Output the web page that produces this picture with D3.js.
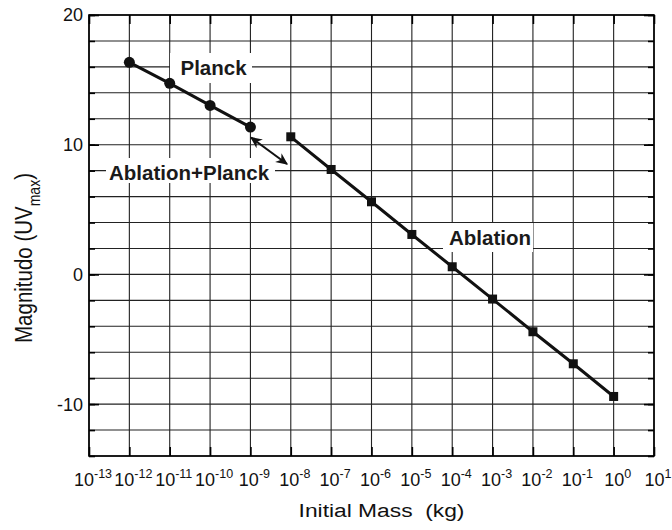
<!DOCTYPE html>
<html>
<head>
<meta charset="utf-8">
<script src="https://cdn.jsdelivr.net/npm/d3@7"></script>
<style>
  html, body { margin: 0; padding: 0; background: #fff; }
  svg { display: block; font-family: Arial, "Liberation Sans", Helvetica, sans-serif; }
</style>
</head>
<body>
<svg id="chart" width="672" height="530"></svg>
<script>
// Peak UV magnitude versus initial meteoroid mass
const planckMass = [1e-12, 1e-11, 1e-10, 1e-9];
const planckMag  = [16.35, 14.73, 13.03, 11.36];

const ablationMass = [1e-8, 1e-7, 1e-6, 1e-5, 1e-4, 1e-3, 1e-2, 1e-1, 1e0];
const ablationMag  = [10.61, 8.09, 5.6, 3.08, 0.59, -1.9, -4.42, -6.89, -9.41];

const xTickExponents = [-13, -12, -11, -10, -9, -8, -7, -6, -5, -4, -3, -2, -1, 0, 1];
const yMajorTicks = [-10, 0, 10, 20];
const yMinorTicks = d3.range(-14, 20.001, 2);

const xTitle = "Initial Mass  (kg)";
const yTitle = "Magnitudo (UV";
const yTitleSub = "max";
const yTitleEnd = ")";

const svg = d3.select("#chart");
const plotL = 89, plotR = 654, plotT = 15, plotB = 456;

const x = d3.scaleLog().domain([1e-13, 1e1]).range([plotL, plotR]);
const y = d3.scaleLinear().domain([-14, 20]).range([plotB, plotT]);

// grid
const grid = svg.append("g").attr("stroke", "#222").attr("stroke-width", 1.1);
grid.selectAll("line.v").data(xTickExponents).join("line").attr("class", "v")
  .attr("x1", d => x(Math.pow(10, d))).attr("x2", d => x(Math.pow(10, d)))
  .attr("y1", plotT).attr("y2", plotB);
grid.selectAll("line.h").data(yMinorTicks).join("line").attr("class", "h")
  .attr("x1", plotL).attr("x2", plotR)
  .attr("y1", d => y(d)).attr("y2", d => y(d));

// axes (ticks drawn inward on all four sides)
const xTickVals = xTickExponents.map(e => Math.pow(10, e));
const axB = d3.axisBottom(x).tickValues(xTickVals).tickSize(-9).tickFormat("");
const axT = d3.axisTop(x).tickValues(xTickVals).tickSize(-9).tickFormat("");
const axL = d3.axisLeft(y).tickValues(yMinorTicks).tickSize(-6).tickFormat("");
const axR = d3.axisRight(y).tickValues(yMinorTicks).tickSize(-6).tickFormat("");
const axL2 = d3.axisLeft(y).tickValues(yMajorTicks).tickSize(-10).tickFormat("");
const axR2 = d3.axisRight(y).tickValues(yMajorTicks).tickSize(-10).tickFormat("");

function styleAxis(g) {
  g.select(".domain").remove();
  g.selectAll(".tick line").attr("stroke", "#000").attr("stroke-width", 1.6);
}
svg.append("g").attr("transform", `translate(0,${plotB})`).call(axB).call(styleAxis);
svg.append("g").attr("transform", `translate(0,${plotT})`).call(axT).call(styleAxis);
svg.append("g").attr("transform", `translate(${plotL},0)`).call(axL).call(styleAxis);
svg.append("g").attr("transform", `translate(${plotR},0)`).call(axR).call(styleAxis);
svg.append("g").attr("transform", `translate(${plotL},0)`).call(axL2).call(styleAxis);
svg.append("g").attr("transform", `translate(${plotR},0)`).call(axR2).call(styleAxis);

// frame
svg.append("rect")
  .attr("x", plotL).attr("y", plotT)
  .attr("width", plotR - plotL).attr("height", plotB - plotT)
  .attr("fill", "none").attr("stroke", "#000").attr("stroke-width", 1.6);

// x tick labels as powers of ten
const xl = svg.append("g").attr("font-size", 18).attr("fill", "#111").attr("text-anchor", "middle");
xTickExponents.forEach(e => {
  const t = xl.append("text")
    .attr("x", x(Math.pow(10, e)) + 4)
    .attr("y", 486);
  t.append("tspan").text("10");
  t.append("tspan").attr("font-size", 12.5).attr("dy", -8).text(String(e));
});

// y tick labels
svg.append("g").attr("font-size", 18).attr("fill", "#111").attr("text-anchor", "end")
  .selectAll("text").data(yMajorTicks).join("text")
  .attr("x", 83).attr("y", d => y(d)).attr("dy", "0.36em")
  .text(d => d);

// axis titles (set slightly wide)
svg.append("text")
  .attr("transform", "translate(381.5,517) scale(1.2,1)")
  .attr("text-anchor", "middle").attr("font-size", 19).attr("fill", "#111")
  .style("white-space", "pre")
  .text(xTitle);

const yt = svg.append("text")
  .attr("transform", "translate(32,258) scale(1.15,1) rotate(-90)")
  .attr("text-anchor", "middle").attr("font-size", 20.5).attr("fill", "#111");
yt.append("tspan").text(yTitle);
yt.append("tspan").attr("font-size", 14).attr("dy", 7).text(yTitleSub);
yt.append("tspan").attr("dy", -7).text(yTitleEnd);

// label boxes and labels
const labels = [
  { text: "Planck", x: 180.5, y: 75, box: [170, 53, 82, 30] },
  { text: "Ablation+Planck", x: 109, y: 179.5, box: [106, 158, 169, 25] },
  { text: "Ablation", x: 449, y: 245, box: [443, 223, 90, 29] }
];
labels.forEach(l => {
  svg.append("rect").attr("x", l.box[0]).attr("y", l.box[1])
    .attr("width", l.box[2]).attr("height", l.box[3]).attr("fill", "#fff");
  svg.append("text").attr("x", l.x).attr("y", l.y)
    .attr("font-size", 20.5).attr("font-weight", "bold").attr("fill", "#1a1a1a")
    .text(l.text);
});

// series lines
const line = d3.line().x(d => x(d[0])).y(d => y(d[1]));
const planck = planckMass.map((m, i) => [m, planckMag[i]]);
const ablation = ablationMass.map((m, i) => [m, ablationMag[i]]);

svg.append("path").datum(planck).attr("d", line)
  .attr("fill", "none").attr("stroke", "#111").attr("stroke-width", 3);
svg.append("path").datum(ablation).attr("d", line)
  .attr("fill", "none").attr("stroke", "#111").attr("stroke-width", 3);

svg.append("g").selectAll("circle").data(planck).join("circle")
  .attr("cx", d => x(d[0])).attr("cy", d => y(d[1])).attr("r", 5.5)
  .attr("fill", "#111");

const sq = 9;
svg.append("g").selectAll("rect").data(ablation).join("rect")
  .attr("x", d => x(d[0]) - sq / 2).attr("y", d => y(d[1]) - sq / 2)
  .attr("width", sq).attr("height", sq).attr("fill", "#111");

// double-headed arrow between the two regimes
svg.append("defs").append("marker")
  .attr("id", "head").attr("viewBox", "0 0 10 10")
  .attr("refX", 9).attr("refY", 5)
  .attr("markerWidth", 6).attr("markerHeight", 6)
  .attr("orient", "auto-start-reverse")
  .append("path").attr("d", "M0,0.5 L10,5 L0,9.5 L3,5 Z").attr("fill", "#111");

svg.append("line")
  .attr("x1", 251).attr("y1", 137.5)
  .attr("x2", 287).attr("y2", 164)
  .attr("stroke", "#111").attr("stroke-width", 2)
  .attr("marker-start", "url(#head)").attr("marker-end", "url(#head)");
</script>
</body>
</html>
